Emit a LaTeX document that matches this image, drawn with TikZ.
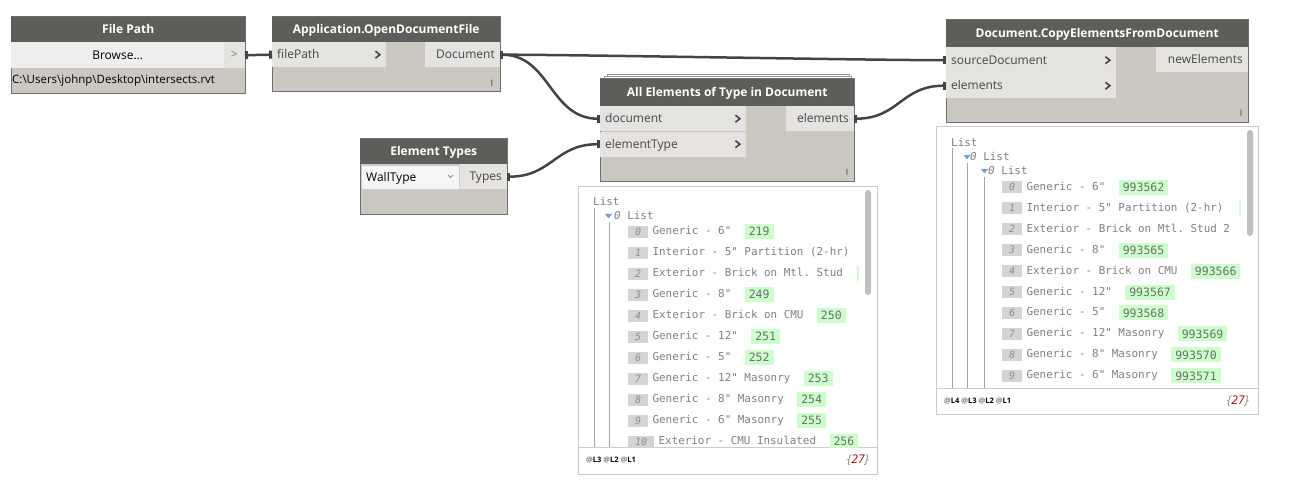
\documentclass[tikz,border=0pt]{standalone}
\usepackage{fontspec}
\setmainfont{Open Sans}
\setmonofont{DejaVu Sans Mono}
\usetikzlibrary{arrows.meta,positioning}

\definecolor{headgray}{RGB}{93,93,90}
\definecolor{bodygray}{RGB}{203,199,193}
\definecolor{portgray}{RGB}{228,227,224}
\definecolor{btngray}{RGB}{238,238,237}
\definecolor{edgegray}{RGB}{110,110,108}
\definecolor{wiregray}{RGB}{68,68,68}
\definecolor{txtgray}{RGB}{70,70,70}
\definecolor{listgray}{RGB}{128,128,128}
\definecolor{idxgray}{RGB}{212,212,212}
\definecolor{valgreen}{RGB}{204,255,204}
\definecolor{framegray}{RGB}{204,204,204}
\definecolor{scrollgray}{RGB}{192,192,192}
\definecolor{treeblue}{RGB}{120,160,210}
\definecolor{darkred}{RGB}{150,0,0}

\newcommand{\portfont}{\fontsize{12}{14}\selectfont}
\newcommand{\monofont}{\ttfamily\fontsize{10.9}{13}\selectfont}

\tikzset{
  nodebody/.style={draw=edgegray, fill=bodygray, line width=1pt},
  stackback/.style={draw=edgegray!70, fill=white, line width=0.8pt},
  head/.style={fill=headgray, text=white, font=\bfseries\fontsize{12}{14}\selectfont,
    anchor=north west, minimum height=25pt, inner sep=0pt, text height=8.6pt, text depth=0pt},
  inport/.style={fill=portgray, text=txtgray, font=\portfont, anchor=north west,
    minimum height=25pt, inner xsep=5pt, inner ysep=0pt, align=left, text height=8.6pt, text depth=0pt},
  outport/.style={fill=portgray, text=txtgray, font=\portfont, anchor=north east,
    minimum height=25pt, inner xsep=5pt, inner ysep=0pt, align=right, text height=8.6pt, text depth=0pt},
  lacing/.style={text=txtgray, font=\fontsize{9}{10}\selectfont, inner sep=0pt},
  chevron/.style={draw=txtgray, line width=1.6pt},
  wire/.style={draw=wiregray, line width=2.5pt,
    {Rectangle[length=3pt,width=8pt]}-{Rectangle[length=3pt,width=8pt]}},
  listbox/.style={draw=framegray, fill=white, line width=1pt},
  listtxt/.style={text=listgray, font=\monofont, anchor=west, inner sep=0pt},
  treeline/.style={draw=framegray!80!black, line width=0.8pt},
  idxbox/.style={fill=idxgray, text=listgray!90, font=\ttfamily\itshape\fontsize{10}{11}\selectfont,
    anchor=west, minimum width=20pt, minimum height=12pt, inner sep=0pt},
  itemtxt/.style={text=listgray, font=\monofont, inner sep=0pt, text height=8pt, text depth=2pt},
  valbox/.style={fill=valgreen, text=listgray!85!black, font=\ttfamily\fontsize{11.5}{13}\selectfont,
    inner xsep=4pt, inner ysep=0pt, minimum height=15pt},
  footlvl/.style={font=\bfseries\fontsize{7.5}{9}\selectfont, anchor=west, inner sep=0pt},
  footcount/.style={text=listgray, font=\itshape\fontsize{12}{14}\selectfont, anchor=east, inner sep=0pt}
}

\begin{document}
\begin{tikzpicture}[x=1pt,y=-1pt]
  \fill[white] (0,0) rectangle (1310,486);
  \useasboundingbox (0,0) rectangle (1310,486);

  %% File Path
  \draw[nodebody] (11,17) rectangle (245,94);
  \node[head, minimum width=234pt] (pathHead) at (11,17) {File Path};
  \node[fill=btngray, text=black, font=\portfont, anchor=north west, minimum width=213pt,
    minimum height=26pt, inner sep=0pt, text height=8.6pt, text depth=0pt] (browse) at (11,42) {Browse...};
  \node[fill=portgray, text=txtgray!70, font=\portfont, anchor=north east, minimum width=21pt,
    minimum height=26pt, inner sep=0pt] (pathOut) at (245,42) {>};
  \node[text=black, font=\fontsize{11.5}{13}\selectfont, anchor=west, inner sep=0pt] (pathTxt)
    at (12,81) {C:\textbackslash Users\textbackslash johnp\textbackslash Desktop\textbackslash intersects.rvt};

  %% Application.OpenDocumentFile
  \draw[nodebody] (272,17) rectangle (500,92);
  \node[head, minimum width=228pt] (openHead) at (272,17) {Application.OpenDocumentFile};
  \node[inport, text width=104pt] (filePath) at (272,42) {filePath};
  \node[outport, text width=65pt] (docOut) at (500,42) {Document};
  \node[lacing] (openLace) at (492,83) {I};

  %% Element Types
  \draw[nodebody] (360,139) rectangle (507,215);
  \node[head, minimum width=147pt] (typesHead) at (360,139) {Element Types};
  \node[draw=framegray, fill=white!96!black, text=black, font=\portfont, anchor=north west,
    text width=88pt, align=left, inner xsep=5pt, inner ysep=0pt, minimum height=24pt,
    text height=8.6pt, text depth=0pt] (typeSel) at (361,165) {WallType};
  \draw[txtgray!60, line width=0.8pt] (448,175) -- (450.5,177.5) -- (453,175);
  \node[outport, text width=37pt] (typesOut) at (507,164) {Types};

  %% All Elements of Type in Document
  \draw[stackback] (607,74) rectangle (849,100);
  \draw[stackback] (604,76.5) rectangle (851.5,100);
  \draw[nodebody] (600,79) rectangle (854,182);
  \node[head, minimum width=254pt, minimum height=27pt] (allHead) at (600,79) {All Elements of Type in Document};
  \node[inport, text width=136pt] (docIn) at (600,106) {document};
  \node[inport, text width=136pt] (typeIn) at (600,131.5) {elementType};
  \node[outport, text width=58pt] (elemOut) at (854,106) {elements};
  \node[lacing] (allLace) at (847,172) {I};

  %% Document.CopyElementsFromDocument
  \draw[nodebody] (946,20) rectangle (1248,123);
  \node[head, minimum width=302pt, minimum height=27pt] (copyHead) at (946,20) {Document.CopyElementsFromDocument};
  \node[inport, text width=160pt, minimum height=26pt] (srcIn) at (946,47) {sourceDocument};
  \node[inport, text width=160pt] (elemIn) at (946,73) {elements};
  \node[outport, text width=82pt] (newOut) at (1248,47) {newElements};
  \node[lacing] (copyLace) at (1241,113) {I};

  \foreach \p in {filePath,docIn,typeIn,srcIn,elemIn}
    \draw[chevron] ([xshift=-11pt,yshift=3.5pt]\p.east) -- ++(4.5pt,-3.5pt) -- ++(-4.5pt,-3.5pt);

  %% wires
  \draw[wire] (pathOut.east) -- (filePath.west);
  \draw[wire] (docOut.east) .. controls +(80pt,0pt) and +(-80pt,0pt) .. (srcIn.west);
  \draw[wire] (docOut.east) .. controls +(50pt,0pt) and +(-50pt,0pt) .. (docIn.west);
  \draw[wire] (typesOut.east) .. controls +(45pt,0pt) and +(-45pt,0pt) .. (typeIn.west);
  \draw[wire] (elemOut.east) .. controls +(45pt,0pt) and +(-45pt,0pt) .. (elemIn.west);

  %% watch of All Elements
  \draw[listbox] (578,187) rectangle (877,474);
  \draw[framegray, line width=1pt] (578,447.5) -- (877,447.5);
  \fill[scrollgray, rounded corners=3pt] (865,190) rectangle (871,295);
  \node[listtxt] (l1root) at (593,201) {List};
  \node[listtxt] (l1sub) at (614,215) {\textit{0} List};
  \fill[treeblue] (605,214) -- (612,214) -- (608.5,218.5) -- cycle;
  \draw[treeline] (594.5,208) -- (594.5,447);
  \draw[treeline] (609.5,222) -- (609.5,447);
  \begin{scope}
    \clip (579,188) rectangle (863,447);
    \foreach \i/\name in {0/{Generic - 6"},1/{Interior - 5" Partition (2-hr)},
      2/{Exterior - Brick on Mtl. Stud},3/{Generic - 8"},4/{Exterior - Brick on CMU},
      5/{Generic - 12"},6/{Generic - 5"},7/{Generic - 12" Masonry},
      8/{Generic - 8" Masonry},9/{Generic - 6" Masonry}}
    {
      \node[idxbox] (l1i\i) at (628,231.7+21*\i) {\i};
      \node[itemtxt, right=4pt of l1i\i] (l1t\i) {\name};
    }
    \foreach \i/\v in {0/219,3/249,4/250,5/251,6/252,7/253,8/254,9/255}
      \node[valbox, right=13pt of l1t\i] (l1v\i) {\v};
    \node[idxbox, minimum width=26pt] (l1i10) at (628,441.7) {10};
    \node[itemtxt, right=4pt of l1i10] (l1t10) {Exterior - CMU Insulated};
    \node[valbox, right=13pt of l1t10] (l1v10) {256};
    \fill[valgreen] (857,266) rectangle (859,281);
  \end{scope}
  \node[footlvl] (l1lvl) at (586,460) {\textcolor{listgray}{@}L3 \textcolor{listgray}{@}L2 \textcolor{listgray}{@}L1};
  \node[footcount] (l1cnt) at (869,460) {\{\textcolor{darkred}{27}\}};

  %% watch of CopyElementsFromDocument
  \draw[listbox] (936,127) rectangle (1258,414);
  \draw[framegray, line width=1pt] (936,388.5) -- (1258,388.5);
  \fill[scrollgray, rounded corners=3pt] (1247,130) rectangle (1253,236);
  \node[listtxt] (l2root) at (951,142) {List};
  \node[listtxt] (l2sub) at (970,156) {\textit{0} List};
  \node[listtxt] (l2subsub) at (988,170) {\textit{0} List};
  \fill[treeblue] (963.5,155) -- (970.5,155) -- (967,159.5) -- cycle;
  \fill[treeblue] (981,169) -- (988,169) -- (984.5,173.5) -- cycle;
  \draw[treeline] (952.5,148) -- (952.5,388);
  \draw[treeline] (967.5,163) -- (967.5,388);
  \draw[treeline] (984.5,177) -- (984.5,388);
  \begin{scope}
    \clip (937,128) rectangle (1245,388);
    \foreach \i/\name in {0/{Generic - 6"},1/{Interior - 5" Partition (2-hr)},
      2/{Exterior - Brick on Mtl. Stud 2},3/{Generic - 8"},4/{Exterior - Brick on CMU},
      5/{Generic - 12"},6/{Generic - 5"},7/{Generic - 12" Masonry},
      8/{Generic - 8" Masonry},9/{Generic - 6" Masonry}}
    {
      \node[idxbox] (l2i\i) at (1002,187.3+20.95*\i) {\i};
      \node[itemtxt, right=4pt of l2i\i] (l2t\i) {\name};
    }
    \foreach \i/\v in {0/993562,3/993565,4/993566,5/993567,6/993568,7/993569,8/993570,9/993571}
      \node[valbox, right=13pt of l2t\i] (l2v\i) {\v};
    \fill[valgreen] (1238.5,201) rectangle (1240.5,215);
  \end{scope}
  \node[footlvl] (l2lvl) at (944,401) {\textcolor{listgray}{@}L4 \textcolor{listgray}{@}L3 \textcolor{listgray}{@}L2 \textcolor{listgray}{@}L1};
  \node[footcount] (l2cnt) at (1249,401) {\{\textcolor{darkred}{27}\}};
\end{tikzpicture}
\end{document}
